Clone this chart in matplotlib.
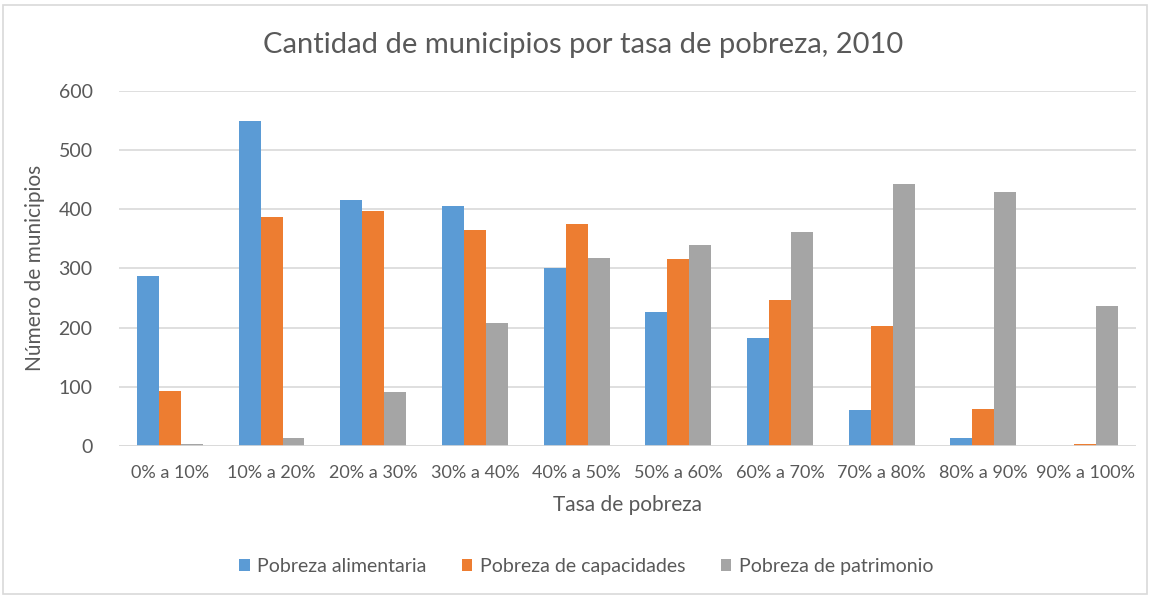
import matplotlib.pyplot as plt
import numpy as np
from matplotlib.patches import Rectangle

categories = ['0% a 10%', '10% a 20%', '20% a 30%', '30% a 40%', '40% a 50%',
              '50% a 60%', '60% a 70%', '70% a 80%', '80% a 90%', '90% a 100%']
alimentaria = [287, 549, 416, 405, 301, 226, 182, 60, 13, 0]
capacidades = [93, 387, 396, 364, 374, 315, 246, 202, 62, 3]
patrimonio = [3, 14, 91, 207, 318, 339, 362, 443, 429, 237]
series_names = ['Pobreza alimentaria', 'Pobreza de capacidades', 'Pobreza de patrimonio']

plt.rcParams['font.family'] = ['Lato', 'DejaVu Sans']
txt = '#595959'

fig = plt.figure(figsize=(11.54, 5.98), dpi=100)
ax = fig.add_axes([0.1031, 0.2542, 0.8813, 0.5942])

# light border around the chart
fig.patches.append(Rectangle((0.003, 0.006), 0.991, 0.986, transform=fig.transFigure,
                             fill=False, edgecolor='#D9D9D9', linewidth=1.2))

x = np.arange(len(categories))
w = 0.216
ax.bar(x - w, alimentaria, w, color='#5B9BD5', label=series_names[0], zorder=3)
ax.bar(x, capacidades, w, color='#ED7D31', label=series_names[1], zorder=3)
ax.bar(x + w, patrimonio, w, color='#A5A5A5', label=series_names[2], zorder=3)

ax.set_xlim(-0.5, len(categories) - 0.5)
ax.set_ylim(0, 600)
ax.set_yticks(range(0, 601, 100))
ax.set_xticks(x)
ax.set_xticklabels(categories)
ax.yaxis.grid(True, color='#D9D9D9', linewidth=1.2, zorder=0)
ax.set_axisbelow(True)
for s in ax.spines.values():
    s.set_visible(False)
ax.axhline(0, color='#D9D9D9', linewidth=1.2, zorder=4)
ax.tick_params(axis='both', length=0, labelcolor=txt)
ax.tick_params(axis='y', pad=19, labelsize=14)
ax.tick_params(axis='x', pad=14, labelsize=13)

ax.set_ylabel('Número de municipios', fontsize=15, color=txt, labelpad=10)
ax.set_xlabel('Tasa de pobreza', fontsize=15, color=txt, labelpad=10)
fig.text(0.505, 0.925, 'Cantidad de municipios por tasa de pobreza, 2010',
         ha='center', va='center', fontsize=21, color=txt)

fig.legend(loc='center', bbox_to_anchor=(0.508, 0.053), ncol=3, frameon=False,
           fontsize=14, labelcolor=txt, handlelength=0.55, handleheight=0.55,
           handletextpad=0.4, columnspacing=1.8)

fig.savefig('out.png', dpi=100)
plt.close()
